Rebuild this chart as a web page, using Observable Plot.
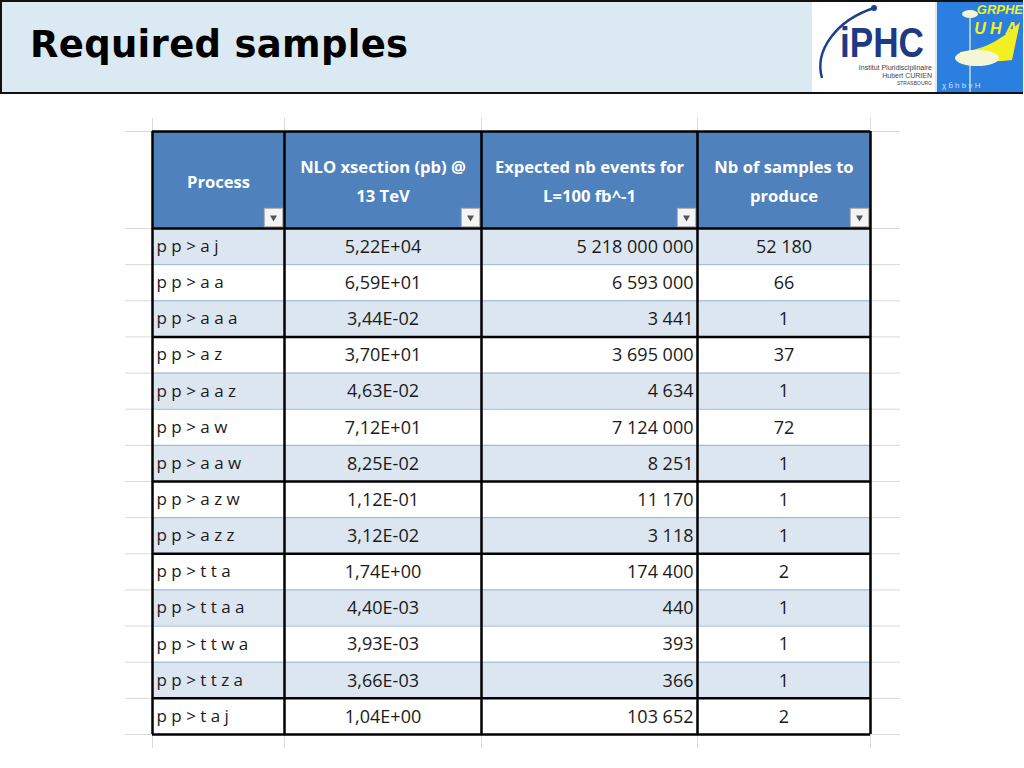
<!DOCTYPE html>
<html>
<head>
<meta charset="utf-8">
<script src="https://cdn.jsdelivr.net/npm/d3@7"></script>
<script src="https://cdn.jsdelivr.net/npm/@observablehq/plot@0.6"></script>
<style>
  html, body { margin: 0; padding: 0; background: #fff; width: 1024px; height: 768px; overflow: hidden; }
  #head { position: relative; box-sizing: border-box; width: 1023px; height: 94px; background: #dbe9f3; border: 2px solid #111; }
  #head h1 { position: absolute; left: 28px; top: 21px; margin: 0; font-family: "DejaVu Sans", sans-serif; font-weight: bold; font-size: 37px; letter-spacing: 0.3px; color: #000; }
  #logos { position: absolute; left: 808px; top: 0px; }
  #chart svg { display: block; }
</style>
</head>
<body>
<div id="head">
  <h1>Required samples</h1>
  <svg id="logos" width="213" height="90" viewBox="808 2 213 90">
    <rect x="810" y="2" width="123" height="90" fill="#ffffff"/>
    <path d="M820,78 C812,50 835,20 872,8" fill="none" stroke="#1d3f8f" stroke-width="2.5"/>
    <circle cx="872" cy="8" r="3" fill="#1d3f8f"/>
    <text x="838" y="57" font-family="Liberation Sans Narrow, Liberation Sans, sans-serif" font-weight="bold" font-size="42" fill="#1d3a86" textLength="84" lengthAdjust="spacingAndGlyphs">iPHC</text>
    <text x="930" y="70" text-anchor="end" font-family="Liberation Sans, sans-serif" font-size="7" fill="#444">Institut Pluridisciplinaire</text>
    <text x="930" y="77.5" text-anchor="end" font-family="Liberation Sans, sans-serif" font-size="7" fill="#444">Hubert CURIEN</text>
    <text x="930" y="84.5" text-anchor="end" font-family="Liberation Sans, sans-serif" font-size="5" fill="#444">STRASBOURG</text>
    <rect x="935" y="2" width="87" height="90" fill="#2a7fe0"/>
    <path d="M958,52 C985,50 1005,35 1018,22 L1010,60 C995,62 975,62 958,58 Z" fill="#f3f021"/>
    <ellipse cx="975" cy="58" rx="22" ry="8" fill="#f4f6d8"/>
    <ellipse cx="968" cy="14" rx="8" ry="4" fill="#f4f6d8"/>
    <line x1="968" y1="18" x2="968" y2="92" stroke="#f4f6d8" stroke-width="1.2"/>
    <text x="1021" y="14" text-anchor="end" font-family="Liberation Sans, sans-serif" font-style="italic" font-weight="bold" font-size="13" fill="#f3f021">GRPHE</text>
    <text x="1019" y="34" text-anchor="end" font-family="Liberation Sans, sans-serif" font-style="italic" font-weight="bold" font-size="16" fill="#f3f021" letter-spacing="4">UHA</text>
    <text x="940" y="88" font-family="Liberation Sans, sans-serif" font-size="8" fill="#cfe3ff">χ  b̄ h   b ν   H</text>
  </svg>
</div>
<div id="chart"></div>
<script>
// ---- data ----
const processes = ["p p > a j","p p > a a","p p > a a a","p p > a z","p p > a a z","p p > a w","p p > a a w","p p > a z w","p p > a z z","p p > t t a","p p > t t a a","p p > t t w a","p p > t t z a","p p > t a j"];
const xsections = [5.22e4, 6.59e1, 3.44e-2, 3.70e1, 4.63e-2, 7.12e1, 8.25e-2, 1.12e-1, 3.12e-2, 1.74e0, 4.40e-3, 3.93e-3, 3.66e-3, 1.04e0];
const events = [5218000000, 6593000, 3441, 3695000, 4634, 7124000, 8251, 11170, 3118, 174400, 440, 393, 366, 103652];
const samples = [52180, 66, 1, 37, 1, 72, 1, 1, 1, 2, 1, 1, 1, 2];
const groups = [1,1,1,2,2,2,2,3,3,4,4,4,4,5];
const headers = ["Process", "NLO xsection (pb) @\n13 TeV", "Expected nb events for\nL=100 fb^-1", "Nb of samples to\nproduce"];

// ---- formatting ----
const fmtSci = v => {
  const [m, e] = v.toExponential(2).split("e");
  const n = +e;
  return m.replace(".", ",") + "E" + (n < 0 ? "-" : "+") + String(Math.abs(n)).padStart(2, "0");
};
const fmtInt = v => String(v).replace(/\B(?=(\d{3})+(?!\d))/g, " ");

const rows = processes.map((p, i) => ({i, process: p, xsec: xsections[i], events: events[i], samples: samples[i], group: groups[i]}));
const nCols = headers.length;
const nRows = rows.length;

const cells = [];
headers.forEach((h, c) => cells.push({r: -1, c, fill: "#4f81bd"}));
rows.forEach(d => { for (let c = 0; c < nCols; c++) cells.push({r: d.i, c, fill: d.i % 2 === 0 ? "#dce6f1" : "#ffffff"}); });

const thinLines = d3.range(1, nRows);
const thickLines = [-1, 0, ...rows.filter(d => d.i > 0 && d.group !== groups[d.i - 1]).map(d => d.i), nRows];

// layout: column / row index -> pixel (piecewise, unequal column widths)
const colLayout = d3.scaleLinear().domain([-1, 0, 1, 2, 3, 4, 5]).range([125, 152, 284, 481, 697, 870, 900]);
const rowLayout = d3.scaleLinear().domain([-1.4, -1, 0, nRows, nRows + 0.4]).range([24, 37, 134, 640, 654]);

const chart = Plot.plot({
  width: 1024,
  height: 674,
  margin: 0,
  style: {fontFamily: "'Open Sans', sans-serif", background: "transparent", overflow: "visible"},
  x: {type: "linear", transform: colLayout, domain: [0, 1024], range: [0, 1024], axis: null},
  y: {type: "linear", transform: rowLayout, domain: [0, 674], range: [0, 674], axis: null},
  color: {type: "identity"},
  marks: [
    // spreadsheet grid
    Plot.ruleY(d3.range(-1, nRows + 1), {x1: -1, x2: nCols + 1, stroke: "#d9d9d9", strokeWidth: 1}),
    Plot.ruleX(d3.range(0, nCols + 1), {y1: -1.4, y2: nRows + 0.4, stroke: "#d9d9d9", strokeWidth: 1}),
    // cells
    Plot.rect(cells, {x1: "c", x2: d => d.c + 1, y1: "r", y2: d => d.r + 1, fill: "fill"}),
    // thin row separators
    Plot.ruleY(thinLines, {x1: 0, x2: nCols, stroke: "#95b3d7", strokeWidth: 1}),
    // thick borders
    Plot.ruleX(d3.range(0, nCols + 1), {y1: -1, y2: nRows, stroke: "#000", strokeWidth: 2.5}),
    Plot.ruleY(thickLines, {x1: 0, x2: nCols, stroke: "#000", strokeWidth: 2.5}),
    // header text
    Plot.text(headers, {x: (d, i) => i + 0.5, y: -0.5, text: d => d, fill: "white", fontWeight: "bold", fontSize: 16.6, lineHeight: 1.7, dy: -1.5}),
    // filter buttons
    Plot.dot(d3.range(nCols), {x: d => d + 1, y: 0, symbol: "square", r: 10.3, dx: -11, dy: -11, fill: "#f4f4f4", stroke: "#b0b0b0", strokeWidth: 1}),
    Plot.dot(d3.range(nCols), {x: d => d + 1, y: 0, symbol: "triangle", rotate: 180, r: 2.6, dx: -11, dy: -11, fill: "#555", stroke: "none"}),
    // body text
    Plot.text(rows, {x: 0, y: d => d.i + 0.5, text: "process", textAnchor: "start", dx: 4, fontSize: 17, fill: "#1a1a1a"}),
    Plot.text(rows, {x: 1.5, y: d => d.i + 0.5, text: d => fmtSci(d.xsec), fontSize: 18, fill: "#1a1a1a", dy: 0.5}),
    Plot.text(rows, {x: 3, y: d => d.i + 0.5, text: d => fmtInt(d.events), textAnchor: "end", dx: -4, fontSize: 18, fill: "#1a1a1a", dy: 0.5}),
    Plot.text(rows, {x: 3.5, y: d => d.i + 0.5, text: d => fmtInt(d.samples), fontSize: 18, fill: "#1a1a1a", dy: 0.5})
  ]
});
document.getElementById("chart").appendChild(chart);
</script>
</body>
</html>
